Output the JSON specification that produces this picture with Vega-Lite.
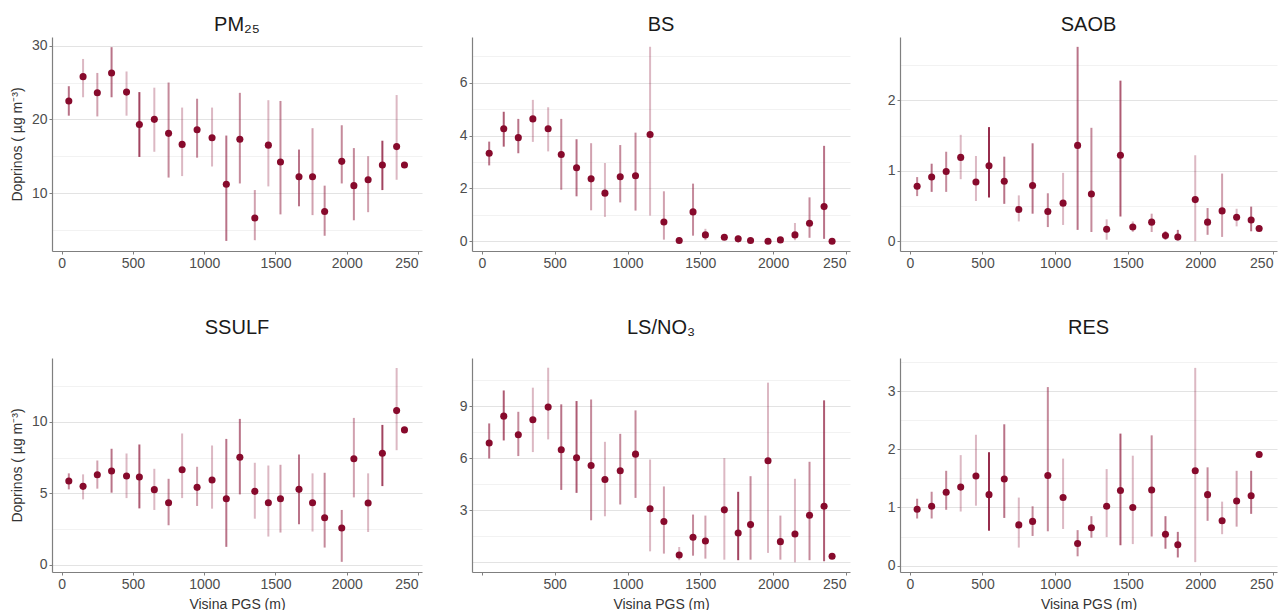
{
  "$schema": "https://vega.github.io/schema/vega-lite/v6.json",
  "padding": {"left": 10, "top": 15, "right": 5, "bottom": 5},
  "config": {
    "font": "Liberation Sans",
    "view": {"stroke": null},
    "axis": {"labelFontSize": 14, "labelColor": "#4d4d4d", "titleFontSize": 14, "titleFontWeight": "normal", "titleColor": "#333333", "domainColor": "#7f7f7f", "tickColor": "#7f7f7f", "tickSize": 3, "labelPadding": 2, "gridColor": "#e5e5e5", "domainWidth": 1.2},
    "axisX": {"grid": false, "titleFontSize": 14, "titlePadding": 6},
    "axisY": {"titlePadding": 7},
    "title": {"fontSize": 20, "fontWeight": "normal", "color": "#1a1a1a", "anchor": "middle"}
  },
  "datasets": {
    "d": [
      {"s":"PM25","x":50,"v":22.5,"lo":20.5,"hi":24.5,"n":6},
      {"s":"PM25","x":150,"v":25.8,"lo":23.0,"hi":28.2,"n":3},
      {"s":"PM25","x":250,"v":23.6,"lo":20.4,"hi":26.3,"n":4},
      {"s":"PM25","x":350,"v":26.3,"lo":23.0,"hi":29.8,"n":6},
      {"s":"PM25","x":455,"v":23.7,"lo":20.5,"hi":26.5,"n":3},
      {"s":"PM25","x":545,"v":19.3,"lo":14.9,"hi":23.7,"n":8},
      {"s":"PM25","x":650,"v":20.0,"lo":15.6,"hi":24.3,"n":3},
      {"s":"PM25","x":750,"v":18.1,"lo":12.1,"hi":25.0,"n":5},
      {"s":"PM25","x":845,"v":16.6,"lo":12.3,"hi":21.6,"n":3},
      {"s":"PM25","x":950,"v":18.6,"lo":14.8,"hi":22.8,"n":5},
      {"s":"PM25","x":1055,"v":17.5,"lo":13.6,"hi":21.6,"n":3},
      {"s":"PM25","x":1155,"v":11.2,"lo":3.5,"hi":17.8,"n":6},
      {"s":"PM25","x":1250,"v":17.3,"lo":11.3,"hi":23.6,"n":5},
      {"s":"PM25","x":1355,"v":6.6,"lo":3.6,"hi":10.4,"n":4},
      {"s":"PM25","x":1450,"v":16.5,"lo":10.9,"hi":22.6,"n":3},
      {"s":"PM25","x":1535,"v":14.2,"lo":7.1,"hi":22.5,"n":5},
      {"s":"PM25","x":1665,"v":12.2,"lo":8.2,"hi":15.9,"n":6},
      {"s":"PM25","x":1760,"v":12.2,"lo":7.0,"hi":18.8,"n":4},
      {"s":"PM25","x":1845,"v":7.5,"lo":4.2,"hi":11.0,"n":5},
      {"s":"PM25","x":1965,"v":14.3,"lo":11.3,"hi":19.2,"n":5},
      {"s":"PM25","x":2050,"v":11.0,"lo":6.3,"hi":16.1,"n":5},
      {"s":"PM25","x":2150,"v":11.8,"lo":7.4,"hi":15.0,"n":4},
      {"s":"PM25","x":2250,"v":13.8,"lo":10.4,"hi":17.1,"n":8},
      {"s":"PM25","x":2350,"v":16.3,"lo":11.8,"hi":23.3,"n":3},
      {"s":"PM25","x":2405,"v":13.8,"lo":13.8,"hi":13.8,"n":0},

      {"s":"BS","x":50,"v":3.33,"lo":2.87,"hi":3.77,"n":6},
      {"s":"BS","x":150,"v":4.26,"lo":3.58,"hi":4.9,"n":7},
      {"s":"BS","x":250,"v":3.92,"lo":3.33,"hi":4.63,"n":6},
      {"s":"BS","x":350,"v":4.63,"lo":3.76,"hi":5.35,"n":3},
      {"s":"BS","x":455,"v":4.26,"lo":3.4,"hi":5.07,"n":3},
      {"s":"BS","x":545,"v":3.28,"lo":1.95,"hi":4.63,"n":5},
      {"s":"BS","x":650,"v":2.78,"lo":1.7,"hi":3.86,"n":6},
      {"s":"BS","x":750,"v":2.36,"lo":1.17,"hi":3.71,"n":4},
      {"s":"BS","x":845,"v":1.82,"lo":0.92,"hi":2.96,"n":3},
      {"s":"BS","x":950,"v":2.44,"lo":1.47,"hi":3.64,"n":5},
      {"s":"BS","x":1055,"v":2.48,"lo":1.16,"hi":4.11,"n":5},
      {"s":"BS","x":1155,"v":4.04,"lo":0.97,"hi":7.36,"n":3},
      {"s":"BS","x":1250,"v":0.73,"lo":0.06,"hi":1.89,"n":4},
      {"s":"BS","x":1355,"v":0.03,"lo":0.0,"hi":0.06,"n":3},
      {"s":"BS","x":1450,"v":1.11,"lo":0.21,"hi":2.18,"n":5},
      {"s":"BS","x":1535,"v":0.24,"lo":0.04,"hi":0.47,"n":3},
      {"s":"BS","x":1665,"v":0.15,"lo":0.06,"hi":0.25,"n":3},
      {"s":"BS","x":1760,"v":0.09,"lo":0.04,"hi":0.21,"n":5},
      {"s":"BS","x":1845,"v":0.03,"lo":0.03,"hi":0.03,"n":0},
      {"s":"BS","x":1965,"v":0.0,"lo":0.0,"hi":0.0,"n":0},
      {"s":"BS","x":2050,"v":0.05,"lo":0.05,"hi":0.05,"n":0},
      {"s":"BS","x":2150,"v":0.24,"lo":0.04,"hi":0.69,"n":3},
      {"s":"BS","x":2250,"v":0.68,"lo":0.13,"hi":1.66,"n":5},
      {"s":"BS","x":2350,"v":1.31,"lo":0.09,"hi":3.61,"n":6},
      {"s":"BS","x":2405,"v":0.0,"lo":0.0,"hi":0.0,"n":0},

      {"s":"SAOB","x":50,"v":0.78,"lo":0.64,"hi":0.91,"n":5},
      {"s":"SAOB","x":150,"v":0.91,"lo":0.7,"hi":1.1,"n":6},
      {"s":"SAOB","x":250,"v":0.99,"lo":0.7,"hi":1.27,"n":5},
      {"s":"SAOB","x":350,"v":1.19,"lo":0.88,"hi":1.51,"n":3},
      {"s":"SAOB","x":455,"v":0.84,"lo":0.57,"hi":1.21,"n":3},
      {"s":"SAOB","x":545,"v":1.07,"lo":0.62,"hi":1.62,"n":9},
      {"s":"SAOB","x":650,"v":0.85,"lo":0.53,"hi":1.2,"n":6},
      {"s":"SAOB","x":750,"v":0.45,"lo":0.28,"hi":0.65,"n":3},
      {"s":"SAOB","x":845,"v":0.79,"lo":0.39,"hi":1.39,"n":6},
      {"s":"SAOB","x":950,"v":0.42,"lo":0.2,"hi":0.68,"n":5},
      {"s":"SAOB","x":1055,"v":0.54,"lo":0.23,"hi":0.97,"n":3},
      {"s":"SAOB","x":1155,"v":1.36,"lo":0.16,"hi":2.76,"n":6},
      {"s":"SAOB","x":1250,"v":0.67,"lo":0.13,"hi":1.61,"n":5},
      {"s":"SAOB","x":1355,"v":0.17,"lo":0.02,"hi":0.31,"n":3},
      {"s":"SAOB","x":1450,"v":1.22,"lo":0.35,"hi":2.28,"n":7},
      {"s":"SAOB","x":1535,"v":0.2,"lo":0.13,"hi":0.28,"n":3},
      {"s":"SAOB","x":1665,"v":0.27,"lo":0.13,"hi":0.39,"n":4},
      {"s":"SAOB","x":1760,"v":0.08,"lo":0.02,"hi":0.14,"n":6},
      {"s":"SAOB","x":1845,"v":0.06,"lo":0.01,"hi":0.16,"n":6},
      {"s":"SAOB","x":1965,"v":0.59,"lo":0.0,"hi":1.22,"n":3},
      {"s":"SAOB","x":2050,"v":0.27,"lo":0.09,"hi":0.47,"n":5},
      {"s":"SAOB","x":2150,"v":0.43,"lo":0.06,"hi":0.96,"n":4},
      {"s":"SAOB","x":2250,"v":0.34,"lo":0.21,"hi":0.46,"n":3},
      {"s":"SAOB","x":2350,"v":0.3,"lo":0.14,"hi":0.49,"n":6},
      {"s":"SAOB","x":2405,"v":0.18,"lo":0.18,"hi":0.18,"n":0},

      {"s":"SSULF","x":50,"v":5.86,"lo":5.28,"hi":6.4,"n":5},
      {"s":"SSULF","x":150,"v":5.49,"lo":4.58,"hi":6.33,"n":3},
      {"s":"SSULF","x":250,"v":6.3,"lo":5.33,"hi":7.3,"n":4},
      {"s":"SSULF","x":350,"v":6.56,"lo":5.05,"hi":8.12,"n":6},
      {"s":"SSULF","x":455,"v":6.21,"lo":4.67,"hi":7.79,"n":3},
      {"s":"SSULF","x":545,"v":6.14,"lo":3.95,"hi":8.42,"n":7},
      {"s":"SSULF","x":650,"v":5.26,"lo":3.84,"hi":6.72,"n":3},
      {"s":"SSULF","x":750,"v":4.35,"lo":2.77,"hi":6.02,"n":5},
      {"s":"SSULF","x":845,"v":6.65,"lo":4.67,"hi":9.19,"n":3},
      {"s":"SSULF","x":950,"v":5.42,"lo":4.12,"hi":6.86,"n":4},
      {"s":"SSULF","x":1055,"v":5.93,"lo":3.93,"hi":8.35,"n":3},
      {"s":"SSULF","x":1155,"v":4.63,"lo":1.26,"hi":8.81,"n":6},
      {"s":"SSULF","x":1250,"v":7.53,"lo":4.93,"hi":10.21,"n":6},
      {"s":"SSULF","x":1355,"v":5.14,"lo":3.23,"hi":7.14,"n":3},
      {"s":"SSULF","x":1450,"v":4.35,"lo":1.98,"hi":6.95,"n":3},
      {"s":"SSULF","x":1535,"v":4.63,"lo":2.26,"hi":7.0,"n":4},
      {"s":"SSULF","x":1665,"v":5.28,"lo":2.84,"hi":7.72,"n":6},
      {"s":"SSULF","x":1760,"v":4.35,"lo":2.33,"hi":6.4,"n":3},
      {"s":"SSULF","x":1845,"v":3.3,"lo":1.21,"hi":6.44,"n":5},
      {"s":"SSULF","x":1965,"v":2.58,"lo":0.21,"hi":3.84,"n":5},
      {"s":"SSULF","x":2050,"v":7.42,"lo":4.72,"hi":10.28,"n":4},
      {"s":"SSULF","x":2150,"v":4.33,"lo":2.3,"hi":6.4,"n":3},
      {"s":"SSULF","x":2250,"v":7.81,"lo":5.51,"hi":9.79,"n":8},
      {"s":"SSULF","x":2350,"v":10.79,"lo":8.02,"hi":13.77,"n":3},
      {"s":"SSULF","x":2405,"v":9.44,"lo":9.44,"hi":9.44,"n":0},

      {"s":"LSNO3","x":50,"v":6.87,"lo":5.98,"hi":8.0,"n":6},
      {"s":"LSNO3","x":150,"v":8.42,"lo":7.02,"hi":9.9,"n":7},
      {"s":"LSNO3","x":250,"v":7.35,"lo":6.12,"hi":8.67,"n":5},
      {"s":"LSNO3","x":350,"v":8.21,"lo":6.35,"hi":10.06,"n":3},
      {"s":"LSNO3","x":455,"v":8.94,"lo":7.08,"hi":11.21,"n":3},
      {"s":"LSNO3","x":545,"v":6.48,"lo":4.17,"hi":9.1,"n":6},
      {"s":"LSNO3","x":650,"v":6.02,"lo":4.0,"hi":9.29,"n":7},
      {"s":"LSNO3","x":750,"v":5.58,"lo":2.42,"hi":9.38,"n":5},
      {"s":"LSNO3","x":845,"v":4.77,"lo":2.65,"hi":6.94,"n":3},
      {"s":"LSNO3","x":950,"v":5.27,"lo":3.33,"hi":7.4,"n":5},
      {"s":"LSNO3","x":1055,"v":6.23,"lo":3.71,"hi":8.75,"n":5},
      {"s":"LSNO3","x":1155,"v":3.08,"lo":0.63,"hi":5.92,"n":3},
      {"s":"LSNO3","x":1250,"v":2.35,"lo":0.5,"hi":4.37,"n":4},
      {"s":"LSNO3","x":1355,"v":0.42,"lo":0.12,"hi":0.88,"n":3},
      {"s":"LSNO3","x":1450,"v":1.44,"lo":0.38,"hi":2.75,"n":5},
      {"s":"LSNO3","x":1535,"v":1.23,"lo":0.21,"hi":2.69,"n":4},
      {"s":"LSNO3","x":1665,"v":3.02,"lo":0.15,"hi":6.0,"n":3},
      {"s":"LSNO3","x":1760,"v":1.69,"lo":0.12,"hi":4.06,"n":8},
      {"s":"LSNO3","x":1845,"v":2.17,"lo":0.15,"hi":4.96,"n":5},
      {"s":"LSNO3","x":1965,"v":5.85,"lo":0.54,"hi":10.35,"n":3},
      {"s":"LSNO3","x":2050,"v":1.19,"lo":0.15,"hi":2.69,"n":4},
      {"s":"LSNO3","x":2150,"v":1.63,"lo":0.0,"hi":4.81,"n":3},
      {"s":"LSNO3","x":2250,"v":2.71,"lo":0.12,"hi":5.79,"n":5},
      {"s":"LSNO3","x":2350,"v":3.23,"lo":0.06,"hi":9.33,"n":7},
      {"s":"LSNO3","x":2405,"v":0.35,"lo":0.35,"hi":0.35,"n":0},

      {"s":"RES","x":50,"v":0.97,"lo":0.81,"hi":1.15,"n":5},
      {"s":"RES","x":150,"v":1.02,"lo":0.81,"hi":1.27,"n":5},
      {"s":"RES","x":250,"v":1.26,"lo":0.96,"hi":1.63,"n":5},
      {"s":"RES","x":350,"v":1.35,"lo":0.93,"hi":1.9,"n":3},
      {"s":"RES","x":455,"v":1.54,"lo":1.03,"hi":2.25,"n":3},
      {"s":"RES","x":545,"v":1.22,"lo":0.6,"hi":1.95,"n":9},
      {"s":"RES","x":650,"v":1.49,"lo":0.82,"hi":2.43,"n":6},
      {"s":"RES","x":750,"v":0.7,"lo":0.31,"hi":1.17,"n":3},
      {"s":"RES","x":845,"v":0.76,"lo":0.51,"hi":1.02,"n":5},
      {"s":"RES","x":950,"v":1.55,"lo":0.59,"hi":3.07,"n":5},
      {"s":"RES","x":1055,"v":1.17,"lo":0.63,"hi":1.84,"n":3},
      {"s":"RES","x":1155,"v":0.38,"lo":0.16,"hi":0.61,"n":5},
      {"s":"RES","x":1250,"v":0.65,"lo":0.48,"hi":0.85,"n":5},
      {"s":"RES","x":1355,"v":1.02,"lo":0.49,"hi":1.66,"n":3},
      {"s":"RES","x":1450,"v":1.29,"lo":0.35,"hi":2.27,"n":7},
      {"s":"RES","x":1535,"v":1.0,"lo":0.37,"hi":1.89,"n":3},
      {"s":"RES","x":1665,"v":1.3,"lo":0.5,"hi":2.24,"n":5},
      {"s":"RES","x":1760,"v":0.54,"lo":0.29,"hi":0.85,"n":6},
      {"s":"RES","x":1845,"v":0.36,"lo":0.14,"hi":0.58,"n":6},
      {"s":"RES","x":1965,"v":1.63,"lo":0.06,"hi":3.4,"n":3},
      {"s":"RES","x":2050,"v":1.22,"lo":0.77,"hi":1.69,"n":5},
      {"s":"RES","x":2150,"v":0.77,"lo":0.54,"hi":1.1,"n":3},
      {"s":"RES","x":2250,"v":1.11,"lo":0.67,"hi":1.63,"n":4},
      {"s":"RES","x":2350,"v":1.2,"lo":0.89,"hi":1.63,"n":6},
      {"s":"RES","x":2405,"v":1.91,"lo":1.91,"hi":1.91,"n":0}
    ]
  },
  "columns": 3,
  "bounds": "flush",
  "spacing": {"row": 107, "column": 50},
  "concat": [
    {
      "width": 370, "height": 214,
      "title": {"text": "PM₂₅", "offset": 2},
      "data": {"name": "d"},
      "transform": [{"filter": "datum.s === 'PM25'"}],
      "encoding": {
        "x": {"field": "x", "type": "quantitative", "scale": {"domain": [-68, 2528], "nice": false, "zero": false},
          "axis": {"values": [0,500,1000,1500,2000,2500], "format": "d", "labelExpr": "datum.value == 2500 ? '250' : datum.label", "labelAlign": {"condition": {"test": "datum.value == 2500", "value": "right"}, "value": "center"}, "labelFlush": false, "labelOverlap": false, "title": null}}
      },
      "layer": [
        {"mark": {"type": "rule", "strokeWidth": 2, "color": "#8b1538"},
         "encoding": {
           "y": {"field": "lo", "type": "quantitative", "scale": {"domain": [2.13, 31.18], "nice": false, "zero": false},
             "axis": {"values": [5,10,15,20,25,30], "format": "~g", "labelExpr": "datum.value % 10 === 0 ? datum.label : ''", "gridColor": {"condition": {"test": "datum.value % 10 === 0", "value": "#e3e3e3"}, "value": "#f2f2f2"}, "tickOpacity": {"condition": {"test": "datum.value % 10 === 0", "value": 1}, "value": 0}, "title": "Doprinos ( µg m⁻³)"}},
           "y2": {"field": "hi"},
           "opacity": {"field": "n", "type": "quantitative", "scale": {"domain": [0, 10], "range": [0, 1]}, "legend": null}}},
        {"mark": {"type": "circle", "size": 50, "color": "#870a2c", "opacity": 1},
         "encoding": {
           "y": {"field": "v", "type": "quantitative", "scale": {"domain": [2.13, 31.18], "nice": false, "zero": false},
             "axis": {"values": [5,10,15,20,25,30], "format": "~g", "labelExpr": "datum.value % 10 === 0 ? datum.label : ''", "gridColor": {"condition": {"test": "datum.value % 10 === 0", "value": "#e3e3e3"}, "value": "#f2f2f2"}, "tickOpacity": {"condition": {"test": "datum.value % 10 === 0", "value": 1}, "value": 0}, "title": "Doprinos ( µg m⁻³)"}}}}
      ]
    },
    {
      "width": 378, "height": 214,
      "title": {"text": "BS", "offset": 2},
      "data": {"name": "d"},
      "transform": [{"filter": "datum.s === 'BS'"}],
      "encoding": {
        "x": {"field": "x", "type": "quantitative", "scale": {"domain": [-68, 2528], "nice": false, "zero": false},
          "axis": {"values": [0,500,1000,1500,2000,2500], "format": "d", "labelExpr": "datum.value == 2500 ? '250' : datum.label", "labelAlign": {"condition": {"test": "datum.value == 2500", "value": "right"}, "value": "center"}, "labelFlush": false, "labelOverlap": false, "title": null}}
      },
      "layer": [
        {"mark": {"type": "rule", "strokeWidth": 2, "color": "#8b1538"},
         "encoding": {
           "y": {"field": "lo", "type": "quantitative", "scale": {"domain": [-0.37, 7.73], "nice": false, "zero": false},
             "axis": {"values": [0,1,2,3,4,5,6,7], "format": "~g", "labelExpr": "datum.value % 2 === 0 ? datum.label : ''", "gridColor": {"condition": {"test": "datum.value % 2 === 0", "value": "#e3e3e3"}, "value": "#f2f2f2"}, "tickOpacity": {"condition": {"test": "datum.value % 2 === 0", "value": 1}, "value": 0}, "title": null}},
           "y2": {"field": "hi"},
           "opacity": {"field": "n", "type": "quantitative", "scale": {"domain": [0, 10], "range": [0, 1]}, "legend": null}}},
        {"mark": {"type": "circle", "size": 50, "color": "#870a2c", "opacity": 1},
         "encoding": {
           "y": {"field": "v", "type": "quantitative", "scale": {"domain": [-0.37, 7.73], "nice": false, "zero": false},
             "axis": {"values": [0,1,2,3,4,5,6,7], "format": "~g", "labelExpr": "datum.value % 2 === 0 ? datum.label : ''", "gridColor": {"condition": {"test": "datum.value % 2 === 0", "value": "#e3e3e3"}, "value": "#f2f2f2"}, "tickOpacity": {"condition": {"test": "datum.value % 2 === 0", "value": 1}, "value": 0}, "title": null}}}}
      ]
    },
    {
      "width": 377, "height": 214,
      "title": {"text": "SAOB", "offset": 2},
      "data": {"name": "d"},
      "transform": [{"filter": "datum.s === 'SAOB'"}],
      "encoding": {
        "x": {"field": "x", "type": "quantitative", "scale": {"domain": [-68, 2528], "nice": false, "zero": false},
          "axis": {"values": [0,500,1000,1500,2000,2500], "format": "d", "labelExpr": "datum.value == 2500 ? '250' : datum.label", "labelAlign": {"condition": {"test": "datum.value == 2500", "value": "right"}, "value": "center"}, "labelFlush": false, "labelOverlap": false, "title": null}}
      },
      "layer": [
        {"mark": {"type": "rule", "strokeWidth": 2, "color": "#8b1538"},
         "encoding": {
           "y": {"field": "lo", "type": "quantitative", "scale": {"domain": [-0.14, 2.9], "nice": false, "zero": false},
             "axis": {"values": [0,0.5,1,1.5,2,2.5], "format": "~g", "labelExpr": "datum.value % 1 === 0 ? datum.label : ''", "gridColor": {"condition": {"test": "datum.value % 1 === 0", "value": "#e3e3e3"}, "value": "#f2f2f2"}, "tickOpacity": {"condition": {"test": "datum.value % 1 === 0", "value": 1}, "value": 0}, "title": null}},
           "y2": {"field": "hi"},
           "opacity": {"field": "n", "type": "quantitative", "scale": {"domain": [0, 10], "range": [0, 1]}, "legend": null}}},
        {"mark": {"type": "circle", "size": 50, "color": "#870a2c", "opacity": 1},
         "encoding": {
           "y": {"field": "v", "type": "quantitative", "scale": {"domain": [-0.14, 2.9], "nice": false, "zero": false},
             "axis": {"values": [0,0.5,1,1.5,2,2.5], "format": "~g", "labelExpr": "datum.value % 1 === 0 ? datum.label : ''", "gridColor": {"condition": {"test": "datum.value % 1 === 0", "value": "#e3e3e3"}, "value": "#f2f2f2"}, "tickOpacity": {"condition": {"test": "datum.value % 1 === 0", "value": 1}, "value": 0}, "title": null}}}}
      ]
    },
    {
      "width": 370, "height": 214,
      "title": {"text": "SSULF", "offset": 20},
      "data": {"name": "d"},
      "transform": [{"filter": "datum.s === 'SSULF'"}],
      "encoding": {
        "x": {"field": "x", "type": "quantitative", "scale": {"domain": [-68, 2528], "nice": false, "zero": false},
          "axis": {"values": [0,500,1000,1500,2000,2500], "format": "d", "labelExpr": "datum.value == 2500 ? '250' : datum.label", "labelAlign": {"condition": {"test": "datum.value == 2500", "value": "right"}, "value": "center"}, "labelFlush": false, "labelOverlap": false, "title": "Visina PGS (m)"}}
      },
      "layer": [
        {"mark": {"type": "rule", "strokeWidth": 2, "color": "#8b1538"},
         "encoding": {
           "y": {"field": "lo", "type": "quantitative", "scale": {"domain": [-0.5, 14.47], "nice": false, "zero": false},
             "axis": {"values": [0,2.5,5,7.5,10,12.5], "format": "~g", "labelExpr": "datum.value % 5 === 0 ? datum.label : ''", "gridColor": {"condition": {"test": "datum.value % 5 === 0", "value": "#e3e3e3"}, "value": "#f2f2f2"}, "tickOpacity": {"condition": {"test": "datum.value % 5 === 0", "value": 1}, "value": 0}, "title": "Doprinos ( µg m⁻³)"}},
           "y2": {"field": "hi"},
           "opacity": {"field": "n", "type": "quantitative", "scale": {"domain": [0, 10], "range": [0, 1]}, "legend": null}}},
        {"mark": {"type": "circle", "size": 50, "color": "#870a2c", "opacity": 1},
         "encoding": {
           "y": {"field": "v", "type": "quantitative", "scale": {"domain": [-0.5, 14.47], "nice": false, "zero": false},
             "axis": {"values": [0,2.5,5,7.5,10,12.5], "format": "~g", "labelExpr": "datum.value % 5 === 0 ? datum.label : ''", "gridColor": {"condition": {"test": "datum.value % 5 === 0", "value": "#e3e3e3"}, "value": "#f2f2f2"}, "tickOpacity": {"condition": {"test": "datum.value % 5 === 0", "value": 1}, "value": 0}, "title": "Doprinos ( µg m⁻³)"}}}}
      ]
    },
    {
      "width": 378, "height": 214,
      "title": {"text": "LS/NO₃", "offset": 20},
      "data": {"name": "d"},
      "transform": [{"filter": "datum.s === 'LSNO3'"}],
      "encoding": {
        "x": {"field": "x", "type": "quantitative", "scale": {"domain": [-68, 2528], "nice": false, "zero": false},
          "axis": {"values": [0,500,1000,1500,2000,2500], "format": "d", "labelExpr": "datum.value == 0 ? '' : datum.value == 2500 ? '250' : datum.label", "labelAlign": {"condition": {"test": "datum.value == 2500", "value": "right"}, "value": "center"}, "labelFlush": false, "labelOverlap": false, "title": "Visina PGS (m)"}}
      },
      "layer": [
        {"mark": {"type": "rule", "strokeWidth": 2, "color": "#8b1538"},
         "encoding": {
           "y": {"field": "lo", "type": "quantitative", "scale": {"domain": [-0.56, 11.77], "nice": false, "zero": false},
             "axis": {"values": [0,1.5,3,4.5,6,7.5,9,10.5], "format": "~g", "labelExpr": "datum.value === 0 || datum.value % 3 !== 0 ? '' : datum.label", "gridColor": {"condition": {"test": "datum.value % 3 === 0", "value": "#e3e3e3"}, "value": "#f2f2f2"}, "tickOpacity": {"condition": {"test": "datum.value % 3 === 0 && datum.value > 0", "value": 1}, "value": 0}, "title": null}},
           "y2": {"field": "hi"},
           "opacity": {"field": "n", "type": "quantitative", "scale": {"domain": [0, 10], "range": [0, 1]}, "legend": null}}},
        {"mark": {"type": "circle", "size": 50, "color": "#870a2c", "opacity": 1},
         "encoding": {
           "y": {"field": "v", "type": "quantitative", "scale": {"domain": [-0.56, 11.77], "nice": false, "zero": false},
             "axis": {"values": [0,1.5,3,4.5,6,7.5,9,10.5], "format": "~g", "labelExpr": "datum.value === 0 || datum.value % 3 !== 0 ? '' : datum.label", "gridColor": {"condition": {"test": "datum.value % 3 === 0", "value": "#e3e3e3"}, "value": "#f2f2f2"}, "tickOpacity": {"condition": {"test": "datum.value % 3 === 0 && datum.value > 0", "value": 1}, "value": 0}, "title": null}}}}
      ]
    },
    {
      "width": 377, "height": 214,
      "title": {"text": "RES", "offset": 20},
      "data": {"name": "d"},
      "transform": [{"filter": "datum.s === 'RES'"}],
      "encoding": {
        "x": {"field": "x", "type": "quantitative", "scale": {"domain": [-68, 2528], "nice": false, "zero": false},
          "axis": {"values": [0,500,1000,1500,2000,2500], "format": "d", "labelExpr": "datum.value == 2500 ? '250' : datum.label", "labelAlign": {"condition": {"test": "datum.value == 2500", "value": "right"}, "value": "center"}, "labelFlush": false, "labelOverlap": false, "title": "Visina PGS (m)"}}
      },
      "layer": [
        {"mark": {"type": "rule", "strokeWidth": 2, "color": "#8b1538"},
         "encoding": {
           "y": {"field": "lo", "type": "quantitative", "scale": {"domain": [-0.11, 3.57], "nice": false, "zero": false},
             "axis": {"values": [0,0.5,1,1.5,2,2.5,3,3.5], "format": "~g", "labelExpr": "datum.value % 1 === 0 ? datum.label : ''", "gridColor": {"condition": {"test": "datum.value % 1 === 0", "value": "#e3e3e3"}, "value": "#f2f2f2"}, "tickOpacity": {"condition": {"test": "datum.value % 1 === 0", "value": 1}, "value": 0}, "title": null}},
           "y2": {"field": "hi"},
           "opacity": {"field": "n", "type": "quantitative", "scale": {"domain": [0, 10], "range": [0, 1]}, "legend": null}}},
        {"mark": {"type": "circle", "size": 50, "color": "#870a2c", "opacity": 1},
         "encoding": {
           "y": {"field": "v", "type": "quantitative", "scale": {"domain": [-0.11, 3.57], "nice": false, "zero": false},
             "axis": {"values": [0,0.5,1,1.5,2,2.5,3,3.5], "format": "~g", "labelExpr": "datum.value % 1 === 0 ? datum.label : ''", "gridColor": {"condition": {"test": "datum.value % 1 === 0", "value": "#e3e3e3"}, "value": "#f2f2f2"}, "tickOpacity": {"condition": {"test": "datum.value % 1 === 0", "value": 1}, "value": 0}, "title": null}}}}
      ]
    }
  ]
}
